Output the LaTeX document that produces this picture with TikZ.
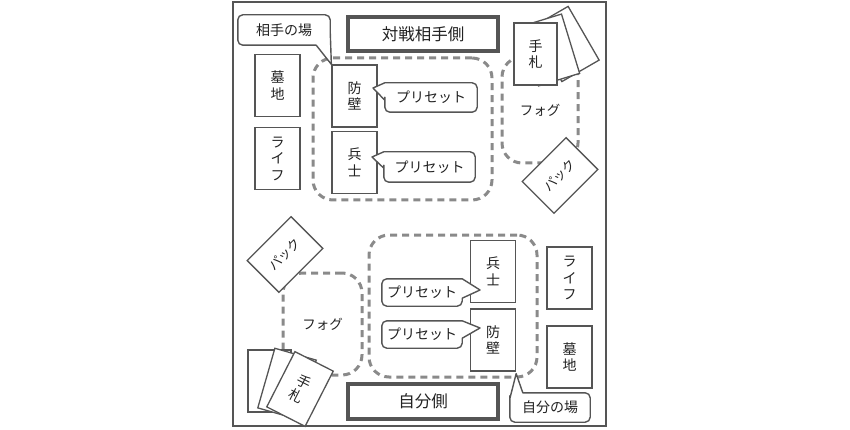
\documentclass[tikz,border=0pt]{standalone}
\usepackage{fontspec}
\setmainfont{Noto Sans CJK JP}
\definecolor{edge}{HTML}{555555}
\definecolor{dashc}{HTML}{8A8A8A}
\definecolor{ink}{HTML}{222222}
\tikzset{
  base/.style={font=\fontsize{14}{16.5}\selectfont, text=ink},
  card/.style={base, draw=edge, line width=1.3pt, fill=white, minimum width=45pt, minimum height=62pt, inner sep=0pt, align=center},
  handcard/.style={card, minimum width=43pt},
  packbox/.style={card, minimum width=62pt, minimum height=45pt, rotate=45, font=\fontsize{13}{15}\selectfont},
  titlebox/.style={base, draw=edge, line width=4pt, fill=white, minimum width=150pt, minimum height=34pt, inner sep=0pt, font=\fontsize{16.5}{18}\selectfont},
  zone/.style={base, draw=dashc, line width=3pt, dash pattern=on 7pt off 5pt, rounded corners=20pt, inner sep=0pt, font=\fontsize{13.5}{15}\selectfont},
  callbox/.style={inner sep=0pt},
  calltext/.style={base, inner sep=0pt},
  callout/.style={draw=edge, line width=1.4pt, fill=white, line join=round},
}
\begin{document}
\begin{tikzpicture}[x=1pt,y=-1pt]
\useasboundingbox (0,0) rectangle (850,430);
% outer frame
\node[draw=edge, line width=1.5pt, minimum width=373pt, minimum height=424pt, inner sep=0pt] (frame) at (419.5,214) {};
% dashed zones
\node[zone, minimum width=179pt, minimum height=142pt] (oppfield) at (402.5,129) {};
\node[zone, minimum width=168pt, minimum height=142pt] (selffield) at (453,306) {};
\node[zone, minimum width=76pt, minimum height=106pt] (oppfog) at (540,110) {フォグ};
\node[zone, minimum width=79pt, minimum height=102pt] (selffog) at (322.5,324) {フォグ};
% opponent cards
\node[card] (owall) at (354.5,96) {防\\壁};
\node[card] (osold) at (354.5,162.5) {兵\\士};
\node[card] (ograve) at (277.5,85.5) {墓\\地};
\node[card] (olife) at (277.5,158.5) {ラ\\イ\\フ};
% self cards
\node[card] (ssold) at (493,271.5) {兵\\士};
\node[card] (swall) at (493,340) {防\\壁};
\node[card] (slife) at (569.5,278) {ラ\\イ\\フ};
\node[card] (sgrave) at (569.5,357) {墓\\地};
% packs
\node[packbox] (opack) at (560,175.5) {パック};
\node[packbox] (spack) at (285,254.5) {パック};
% hands
\node[handcard, rotate=30] (ohand3) at (565,44) {};
\node[handcard, rotate=17] (ohand2) at (550,50) {};
\node[handcard] (ohand1) at (535.5,54) {手\\札};
\node[handcard] (shand3) at (269.5,381) {};
\node[handcard, rotate=-16] (shand2) at (287,384) {};
\node[handcard, rotate=-27] (shand1) at (300,389) {手\\札};
% titles
\node[titlebox] (otitle) at (423,34) {対戦相手側};
\node[titlebox, minimum height=35pt] (stitle) at (423,401.5) {自分側};
% callout boxes
\node[callbox, minimum width=92pt, minimum height=30pt] (olab) at (284,30) {};
\node[callbox, minimum width=80pt, minimum height=29pt] (slab) at (550,407.5) {};
\node[callbox, minimum width=92pt, minimum height=29pt] (op1) at (431,97.5) {};
\node[callbox, minimum width=91pt, minimum height=30pt] (op2) at (429.5,167) {};
\node[callbox, minimum width=80pt, minimum height=27pt] (sp1) at (422,292.5) {};
\node[callbox, minimum width=80pt, minimum height=27pt] (sp2) at (422,334.5) {};
\coordinate (tipA) at (373,88);
\coordinate (tipA2) at (372,157);
\coordinate (tipC) at (480,290);
\coordinate (tipC2) at (480,328);
\coordinate (tipB) at ([yshift=-2pt]swall.south east);
% callout outlines
\draw[callout] (olab.south) [rounded corners=5pt] -- (olab.south west) -- (olab.north west) -- (olab.north east) -- ([yshift=-14pt]olab.north east) [sharp corners] -- ([yshift=-16pt]olab.north east) -- (owall.north west) -- ([xshift=-14pt]olab.south east) -- cycle;
\draw[callout] (slab.north) [rounded corners=5pt] -- (slab.north east) -- (slab.south east) -- (slab.south west) -- ([yshift=-8pt]slab.north west) [sharp corners] -- ([yshift=-6pt]slab.north west) -- (tipB) -- ([xshift=13pt]slab.north west) -- cycle;
\draw[callout] (op1.north) [rounded corners=5pt] -- (op1.north east) -- (op1.south east) -- (op1.south west) -- ([yshift=10pt]op1.south west) [sharp corners] -- ([yshift=12pt]op1.south west) -- (tipA) -- (op1.north west) -- cycle;
\draw[callout] (op2.north) [rounded corners=5pt] -- (op2.north east) -- (op2.south east) -- (op2.south west) -- ([yshift=12pt]op2.south west) [sharp corners] -- ([yshift=14pt]op2.south west) -- (tipA2) -- (op2.north west) -- cycle;
\draw[callout] (sp1.south) [rounded corners=5pt] -- (sp1.south west) -- (sp1.north west) -- (sp1.north) [sharp corners] -- (sp1.north east) -- (tipC) -- ([yshift=8pt]sp1.south east) -- ([yshift=6pt]sp1.south east) [rounded corners=5pt] -- (sp1.south east) -- cycle;
\draw[callout] (sp2.south) [rounded corners=5pt] -- (sp2.south west) -- (sp2.north west) -- (sp2.north) [sharp corners] -- (sp2.north east) -- (tipC2) -- ([yshift=10pt]sp2.south east) -- ([yshift=8pt]sp2.south east) [rounded corners=5pt] -- (sp2.south east) -- cycle;
% callout texts
\node[calltext] (olabt) at (olab) {相手の場};
\node[calltext] (slabt) at (slab) {自分の場};
\node[calltext] (op1t) at (op1) {プリセット};
\node[calltext] (op2t) at (op2) {プリセット};
\node[calltext] (sp1t) at (sp1) {プリセット};
\node[calltext] (sp2t) at (sp2) {プリセット};
\end{tikzpicture}
\end{document}
